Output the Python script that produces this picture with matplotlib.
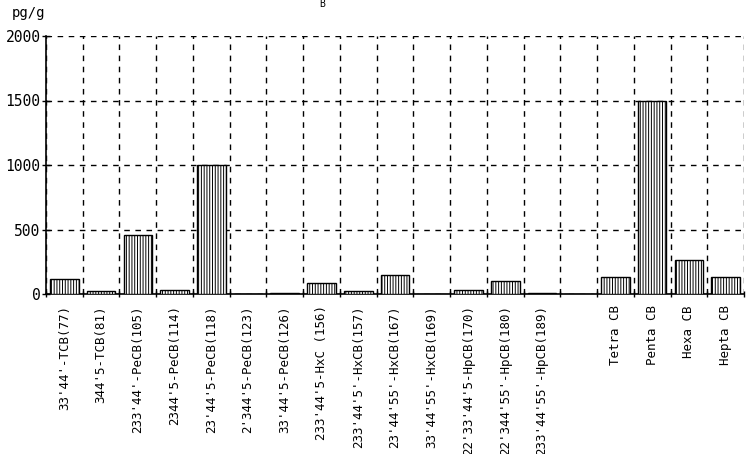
import matplotlib.pyplot as plt
import numpy as np

plt.rcParams['font.family'] = ['DejaVu Sans Mono']
plt.rcParams['hatch.linewidth'] = 0.7

# congener names (blank slot separates homologue totals)
labels = ["33'44'-TCB(77)", "344'5-TCB(81)", "233'44'-PeCB(105)", "2344'5-PeCB(114)",
          "23'44'5-PeCB(118)", "2'344'5-PeCB(123)", "33'44'5-PeCB(126)", "233'44'5-HxC (156)",
          "233'44'5'-HxCB(157)", "23'44'55'-HxCB(167)", "33'44'55'-HxCB(169)",
          "22'33'44'5-HpCB(170)", "22'344'55'-HpCB(180)", "233'44'55'-HpCB(189)",
          "", "Tetra CB", "Penta CB", "Hexa CB", "Hepta CB"]
values = [120, 25, 460, 30, 1000, 0, 5, 85, 25, 145, 0, 30, 100, 5,
          0, 135, 1500, 260, 135]

x = np.arange(len(labels))

fig = plt.figure(figsize=(7.56, 4.54), dpi=100)
ax = fig.add_axes([46/756, 1-294/454, (744-46)/756, (294-36)/454])

ax.bar(x, values, width=0.78, color='white', edgecolor='black', linewidth=1.0,
       hatch='||||||', zorder=3)

ax.set_xlim(-0.5, len(labels)-0.5)
ax.set_ylim(0, 2000)
ax.set_yticks([0, 500, 1000, 1500, 2000])
ax.set_xticks(x)
ax.set_xticklabels(labels, rotation=90, fontsize=9)
ax.set_xticks(np.arange(-0.5, len(labels)), minor=True)
ax.tick_params(axis='x', which='major', length=0, pad=8)
ax.tick_params(axis='x', which='minor', length=4, direction='inout', width=1)
ax.tick_params(axis='y', length=6, direction='inout', width=1, labelsize=10.5, pad=1)

ax.grid(True, which='minor', axis='x', color='black', linestyle=(0, (4, 4)), linewidth=1)
ax.grid(True, which='major', axis='y', color='black', linestyle=(0, (4, 4)), linewidth=1)
ax.set_axisbelow(True)

for s in ['top', 'right']:
    ax.spines[s].set_visible(False)
ax.spines['left'].set_linewidth(1.2)
ax.spines['bottom'].set_linewidth(1.2)

fig.text(12/756, 1-13/454, 'pg/g', fontsize=10, va='center', ha='left')
fig.text(322/756, 1-4/454, 'B', fontsize=7, va='center', ha='center')

fig.savefig('out.png', dpi=100)
